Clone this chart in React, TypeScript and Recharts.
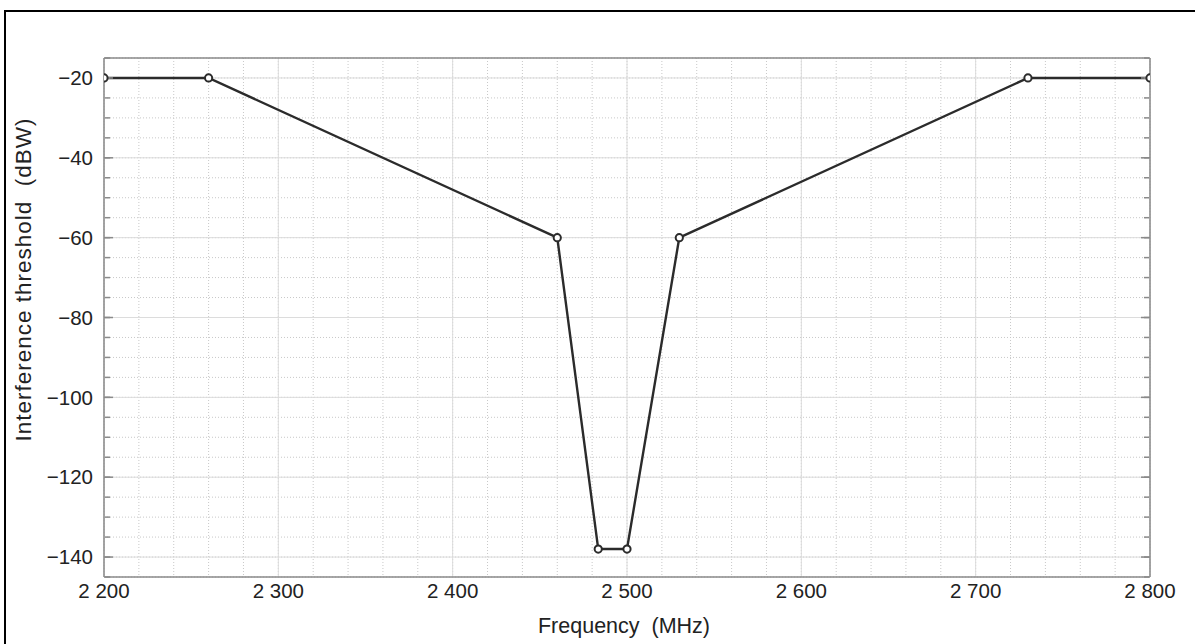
import React from "react";
import {
  LineChart,
  Line,
  XAxis,
  YAxis,
  CartesianGrid,
  Label,
} from "recharts";

const freqs = [2200, 2260, 2460, 2483.5, 2500, 2530, 2730, 2800];
const thresholds = [-20, -20, -60, -138, -138, -60, -20, -20];

const xMajorTicks = [2200, 2300, 2400, 2500, 2600, 2700, 2800];
const xMinorTicks = [
  2200, 2220, 2240, 2260, 2280, 2300, 2320, 2340, 2360, 2380, 2400, 2420,
  2440, 2460, 2480, 2500, 2520, 2540, 2560, 2580, 2600, 2620, 2640, 2660,
  2680, 2700, 2720, 2740, 2760, 2780, 2800,
];
const yMajorTicks = [-140, -120, -100, -80, -60, -40, -20];
const yMinorTicks = [
  -145, -140, -135, -130, -125, -120, -115, -110, -105, -100, -95, -90, -85,
  -80, -75, -70, -65, -60, -55, -50, -45, -40, -35, -30, -25, -20, -15,
];

const xTitle = "Frequency\u00a0 (MHz)";
const yTitle = "Interference threshold\u00a0 (dBW)";

const data = freqs.map((f, i) => ({ f, v: thresholds[i] }));

const FRAME = "#8a8a8a";
const TEXT = "#222";
const FONT = "'Liberation Sans', Arial, sans-serif";

const fmtFreq = (v: number) => {
  const s = String(v);
  return s.length > 3 ? s.slice(0, s.length - 3) + " " + s.slice(-3) : s;
};
const fmtY = (v: number) => (v < 0 ? "\u2212" + Math.abs(v) : String(v));

const noLabel = () => <g />;

function XTitle(props: any) {
  const vb = props.viewBox || {};
  const cx = vb.x + vb.width / 2 - 3;
  const y = vb.y + vb.height + 55;
  return (
    <text x={cx} y={y} textAnchor="middle" fontSize={21.5} fill={TEXT} fontFamily={FONT}>
      {xTitle}
    </text>
  );
}

function YTitle(props: any) {
  const vb = props.viewBox || {};
  const x = 31;
  const cy = vb.y + vb.height / 2 - 38;
  return (
    <text
      x={x}
      y={cy}
      textAnchor="middle"
      fontSize={22.5}
      letterSpacing={1}
      fill={TEXT}
      fontFamily={FONT}
      transform={`rotate(-90 ${x} ${cy})`}
    >
      {yTitle}
    </text>
  );
}

export default function App() {
  return (
    <div
      style={{
        position: "fixed",
        left: 0,
        top: 0,
        width: 1195,
        height: 644,
        background: "#fff",
        overflow: "hidden",
      }}
    >
      <div
        style={{
          position: "absolute",
          left: 4,
          top: 10,
          right: -10,
          bottom: -10,
          borderTop: "2px solid #000",
          borderLeft: "2px solid #000",
        }}
      />
      <div style={{ position: "absolute", left: 0, top: 0 }}>
        <LineChart
          width={1195}
          height={644}
          data={data}
          margin={{ top: 58, right: 45, bottom: 66, left: 103 }}
          style={{ fontFamily: FONT }}
        >
          <CartesianGrid
            xAxisId="x"
            yAxisId="y"
            verticalValues={xMinorTicks}
            horizontalValues={yMinorTicks}
            stroke="#c8c8c8"
            strokeDasharray="1 2"
          />
          <CartesianGrid
            xAxisId="x"
            yAxisId="y"
            verticalValues={xMajorTicks}
            horizontalValues={yMajorTicks}
            stroke="#dcdcdc"
          />

          {/* label axes */}
          <XAxis
            xAxisId="x"
            dataKey="f"
            type="number"
            domain={[2200, 2800]}
            allowDataOverflow
            ticks={xMajorTicks}
            tickFormatter={fmtFreq}
            height={1}
            tickLine={false}
            tickSize={0}
            tickMargin={6}
            axisLine={{ stroke: FRAME, strokeWidth: 1.5 }}
            tick={{ fontSize: 20.5, fill: TEXT }}
            interval={0}
          >
            <Label content={<XTitle />} />
          </XAxis>
          <YAxis
            yAxisId="y"
            dataKey="v"
            type="number"
            domain={[-145, -15]}
            allowDataOverflow
            ticks={yMajorTicks}
            tickFormatter={fmtY}
            width={1}
            tickLine={false}
            tickSize={0}
            tickMargin={11}
            axisLine={{ stroke: FRAME, strokeWidth: 1.5 }}
            tick={{ fontSize: 20.5, fill: TEXT }}
            interval={0}
          >
            <Label content={<YTitle />} />
          </YAxis>

          {/* inward tick marks: bottom */}
          <XAxis xAxisId="xbM" type="number" domain={[2200, 2800]} allowDataOverflow ticks={xMajorTicks}
            orientation="bottom" mirror height={1} tickSize={9} tick={noLabel} axisLine={false}
            tickLine={{ stroke: FRAME, strokeWidth: 1.5 }} interval={0} />
          <XAxis xAxisId="xbm" type="number" domain={[2200, 2800]} allowDataOverflow ticks={xMinorTicks}
            orientation="bottom" mirror height={1} tickSize={5} tick={noLabel} axisLine={false}
            tickLine={{ stroke: FRAME, strokeWidth: 1.5 }} interval={0} />
          {/* top */}
          <XAxis xAxisId="xtM" type="number" domain={[2200, 2800]} allowDataOverflow ticks={xMajorTicks}
            orientation="top" mirror height={1} tickSize={9} tick={noLabel}
            axisLine={{ stroke: FRAME, strokeWidth: 1.5 }}
            tickLine={{ stroke: FRAME, strokeWidth: 1.5 }} interval={0} />
          <XAxis xAxisId="xtm" type="number" domain={[2200, 2800]} allowDataOverflow ticks={xMinorTicks}
            orientation="top" mirror height={1} tickSize={5} tick={noLabel} axisLine={false}
            tickLine={{ stroke: FRAME, strokeWidth: 1.5 }} interval={0} />
          {/* left */}
          <YAxis yAxisId="ylM" type="number" domain={[-145, -15]} allowDataOverflow ticks={yMajorTicks}
            orientation="left" mirror width={1} tickSize={9} tick={noLabel} axisLine={false}
            tickLine={{ stroke: FRAME, strokeWidth: 1.5 }} interval={0} />
          <YAxis yAxisId="ylm" type="number" domain={[-145, -15]} allowDataOverflow ticks={yMinorTicks}
            orientation="left" mirror width={1} tickSize={5} tick={noLabel} axisLine={false}
            tickLine={{ stroke: FRAME, strokeWidth: 1.5 }} interval={0} />
          {/* right */}
          <YAxis yAxisId="yrM" type="number" domain={[-145, -15]} allowDataOverflow ticks={yMajorTicks}
            orientation="right" mirror width={1} tickSize={9} tick={noLabel}
            axisLine={{ stroke: FRAME, strokeWidth: 1.5 }}
            tickLine={{ stroke: FRAME, strokeWidth: 1.5 }} interval={0} />
          <YAxis yAxisId="yrm" type="number" domain={[-145, -15]} allowDataOverflow ticks={yMinorTicks}
            orientation="right" mirror width={1} tickSize={5} tick={noLabel} axisLine={false}
            tickLine={{ stroke: FRAME, strokeWidth: 1.5 }} interval={0} />

          <Line
            xAxisId="x"
            yAxisId="y"
            dataKey="v"
            type="linear"
            stroke="#2b2b2b"
            strokeWidth={2.4}
            dot={{ r: 3.6, stroke: "#2b2b2b", strokeWidth: 2, fill: "#fff" }}
            activeDot={false}
            isAnimationActive={false}
          />
        </LineChart>
      </div>
    </div>
  );
}
